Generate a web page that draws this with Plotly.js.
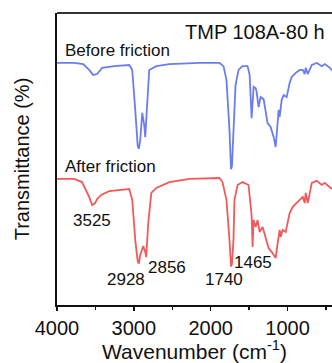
<!DOCTYPE html>
<html>
<head>
<meta charset="utf-8">
<script src="https://cdn.plot.ly/plotly-3.0.1.min.js"></script>
<style>html,body{margin:0;padding:0;background:#fff;}#chart{width:332px;height:363px;}</style>
</head>
<body>
<div id="chart"></div>
<script>
// Wavenumber (cm-1) and transmittance (%)
const beforeWn = [4000,3778,3660,3582,3530,3478,3413,3256,3060,3021,2982,2950,2935,2917,2891,2865,2852,2826,2800,2708,2538,2147,1886,1834,1795,1756,1736,1724,1704,1677,1638,1586,1521,1494,1468,1442,1416,1403,1377,1351,1312,1286,1260,1221,1181,1155,1129,1116,1103,1077,1051,1012,973,946,894,842,803,777,764,738,685,620,555,516,450,411];
const beforeT  = [82.9,82.9,82.5,80.5,78.8,79.1,81.2,81.8,82.2,80.5,66.8,54.5,53.5,56.5,65.8,61.6,57.5,70.2,80.5,81.8,82.5,82.9,82.9,81.8,77.1,59.9,46.5,47.5,59.9,75.3,80.5,81.8,81.8,78.8,64.0,74.7,74.3,73.0,67.8,71.2,70.5,66.8,62.3,61.0,57.5,54.1,63.4,66.8,64.4,70.2,71.9,71.2,76.0,78.1,79.5,80.5,80.5,79.1,81.2,79.1,82.2,82.9,81.8,82.5,81.2,80.1];
const afterWn  = [4000,3778,3674,3622,3582,3543,3504,3478,3426,3321,3060,3021,2982,2950,2935,2917,2878,2852,2839,2813,2773,2708,2538,2277,1886,1847,1795,1756,1736,1724,1704,1691,1651,1586,1508,1468,1455,1442,1416,1390,1364,1325,1286,1247,1208,1155,1129,1103,1090,1064,1025,973,933,881,803,777,764,738,685,620,555,516,425];
const afterT   = [43.2,43.2,42.1,39.4,37.0,34.2,34.9,36.3,37.7,39.0,39.7,36.0,22.3,15.0,14.2,17.1,20.2,18.2,16.4,28.1,38.4,40.1,42.1,43.2,43.5,42.1,36.0,22.3,13.2,14.0,22.3,36.0,41.1,42.1,41.1,30.8,19.9,29.1,26.7,29.1,25.0,26.7,23.3,19.5,18.2,16.1,21.2,25.7,23.3,25.7,25.0,31.5,33.6,34.9,37.0,34.9,38.4,34.9,41.8,42.5,41.1,41.8,39.7];

const seriesNames = ['Before friction', 'After friction'];
const peakLabels = ['3525', '2928', '2856', '1740', '1465'];
const peakLabelWn = [3550, 3107, 2572, 1829, 1451];
const peakLabelT  = [28.8, 8.6, 13.0, 8.6, 14.4];
const xTickVals = [4000, 3000, 2000, 1000];
const sampleTitle = 'TMP 108A-80 h';

const FONT = 'Liberation Sans, Arial, Helvetica, sans-serif';

const traces = [
  {x: beforeWn, y: beforeT, mode: 'lines', name: seriesNames[0],
   line: {color: '#6a7df0', width: 1.8}, hoverinfo: 'skip'},
  {x: afterWn, y: afterT, mode: 'lines', name: seriesNames[1],
   line: {color: '#f25a5a', width: 1.8}, hoverinfo: 'skip'}
];

const annotations = [];
peakLabels.forEach((t, i) => annotations.push({
  x: peakLabelWn[i], y: peakLabelT[i], xref: 'x', yref: 'y', text: t,
  showarrow: false, xanchor: 'center', yanchor: 'middle',
  font: {family: FONT, size: 17, color: '#111'}
}));
annotations.push({x: 0.982, y: 0.935, xref: 'paper', yref: 'paper', text: sampleTitle,
  showarrow: false, xanchor: 'right', yanchor: 'middle', font: {family: FONT, size: 20, color: '#111'}});
annotations.push({x: 0.02, y: 0.873, xref: 'paper', yref: 'paper', text: seriesNames[0],
  showarrow: false, xanchor: 'left', yanchor: 'middle', font: {family: FONT, size: 17, color: '#111'}});
annotations.push({x: 0.02, y: 0.476, xref: 'paper', yref: 'paper', text: seriesNames[1],
  showarrow: false, xanchor: 'left', yanchor: 'middle', font: {family: FONT, size: 17, color: '#111'}});

const layout = {
  width: 332, height: 363,
  margin: {l: 57, r: 0, t: 13, b: 58, pad: 0},
  paper_bgcolor: '#fff', plot_bgcolor: '#fff',
  showlegend: false,
  font: {family: FONT, color: '#111'},
  xaxis: {
    range: [4000, 422], showgrid: false, zeroline: false,
    showline: true, linecolor: '#111', linewidth: 1.6,
    ticks: 'outside', ticklen: 4, tickwidth: 1.4, tickcolor: '#111',
    tickvals: xTickVals, ticktext: xTickVals.map(String),
    tickfont: {family: FONT, size: 20, color: '#111'},
    minor: {tickvals: [3500, 2500, 1500, 500], ticks: 'outside', ticklen: 3, tickwidth: 1.4, tickcolor: '#111'},
    title: {text: 'Wavenumber (cm<sup>-1</sup>)', font: {family: FONT, size: 21, color: '#111'}, standoff: 3}
  },
  yaxis: {
    range: [0, 100], showgrid: false, zeroline: false,
    showline: true, linecolor: '#111', linewidth: 1.6,
    ticks: '', showticklabels: false,
    title: {text: 'Transmittance (%)', font: {family: FONT, size: 20, color: '#111'}, standoff: 20}
  },
  shapes: [{type: 'line', xref: 'paper', yref: 'paper', x0: 0, x1: 1, y0: 1, y1: 1,
    line: {color: '#333', width: 2}}],
  annotations: annotations
};

Plotly.newPlot('chart', traces, layout, {staticPlot: true, displayModeBar: false});
</script>
</body>
</html>
